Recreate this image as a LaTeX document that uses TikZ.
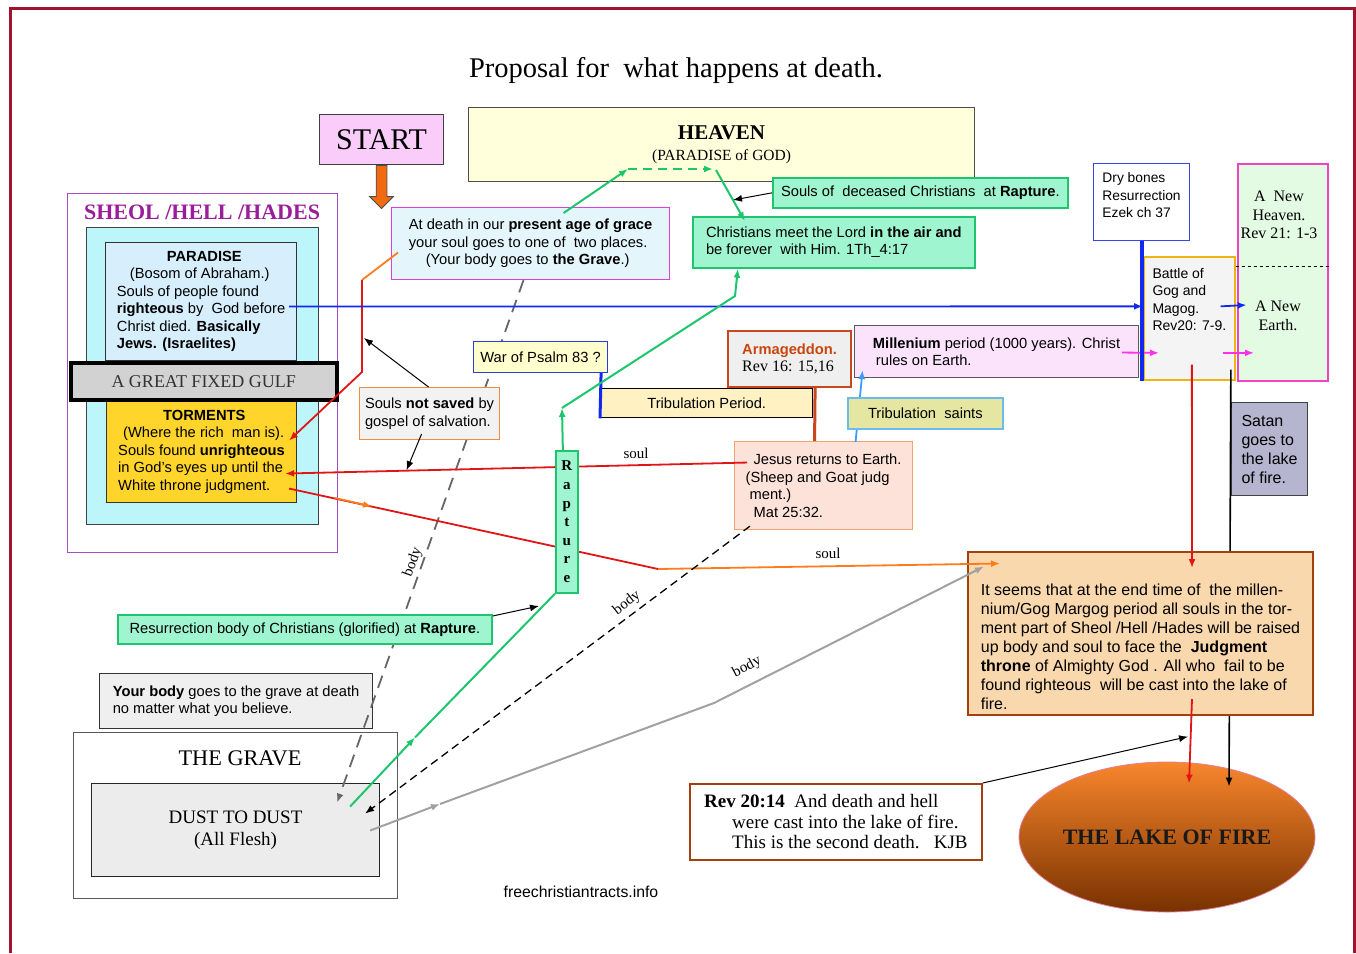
\documentclass[tikz,border=0pt]{standalone}
\usepackage{fontspec}
\setmainfont{Liberation Serif}
\setsansfont{Liberation Sans}
\usetikzlibrary{positioning,shapes.geometric,shapes.arrows,arrows.meta}
\definecolor{framered}{HTML}{A0122E}
\definecolor{startpink}{HTML}{FACCFA}
\definecolor{startorange}{HTML}{F26A10}
\definecolor{heavenyellow}{HTML}{FFFFDC}
\definecolor{deathblue}{HTML}{E4F6FC}
\definecolor{deathmagenta}{HTML}{DD3FDD}
\definecolor{mint}{HTML}{9FF5CF}
\definecolor{mintedge}{HTML}{20C46E}
\definecolor{sheolpurple}{HTML}{A24DC3}
\definecolor{sheoltext}{HTML}{9A1E99}
\definecolor{sheolcyan}{HTML}{BDF6FA}
\definecolor{paradiseblue}{HTML}{D7EFFC}
\definecolor{gulfgray}{HTML}{D2D2D2}
\definecolor{tormentgold}{HTML}{FFD52C}
\definecolor{notsavedgray}{HTML}{F2F2F2}
\definecolor{notsavedorange}{HTML}{F08C3E}
\definecolor{psalmyellow}{HTML}{FFFFCE}
\definecolor{psalmblue}{HTML}{2B3BDD}
\definecolor{tribyellow}{HTML}{FFF1C2}
\definecolor{armgray}{HTML}{EFEFEF}
\definecolor{armred}{HTML}{C9471C}
\definecolor{armtext}{HTML}{C8460E}
\definecolor{millpink}{HTML}{FCE3FC}
\definecolor{saintsgreen}{HTML}{E4E6A2}
\definecolor{saintsblue}{HTML}{6BBCEB}
\definecolor{jesussalmon}{HTML}{FDE2DA}
\definecolor{jesusorange}{HTML}{F4A26E}
\definecolor{bodygray}{HTML}{EFEFEF}
\definecolor{dustgray}{HTML}{ECECEC}
\definecolor{bonesblue}{HTML}{3A44E8}
\definecolor{battlegray}{HTML}{F4F4F4}
\definecolor{battlegold}{HTML}{EDB512}
\definecolor{newgreen}{HTML}{E2FBE2}
\definecolor{newpink}{HTML}{EE44C4}
\definecolor{satangray}{HTML}{B5B5CF}
\definecolor{judgpeach}{HTML}{FAD8AD}
\definecolor{judgbrown}{HTML}{A2410D}
\definecolor{laketop}{HTML}{F8862C}
\definecolor{lakebottom}{HTML}{783100}
\definecolor{lakepink}{HTML}{E27F9A}
\definecolor{soulred}{HTML}{E01515}
\definecolor{soulorange}{HTML}{FF7B1C}
\definecolor{raptgreen}{HTML}{1DC66D}
\definecolor{linkblue}{HTML}{1228F0}
\definecolor{linkmagenta}{HTML}{FF30EC}
\definecolor{skyblue}{HTML}{3A9BFA}
\newcommand{\boxfont}{\sffamily\fontsize{14.7}{17.5}\selectfont}
\begin{document}
\begin{tikzpicture}[x=1pt, y=-1pt,
  panel/.style={shape=rectangle, draw, anchor=north west, line width=1.1pt, inner sep=3pt, align=left, font=\boxfont},
  green panel/.style={panel, fill=mint, draw=mintedge, line width=1.7pt},
  word/.style={font=\rmfamily\fontsize{15}{18}\selectfont},
  pointer/.style={-{Latex[length=9pt,width=7pt]}},
  red line/.style={draw=soulred, line width=1.8pt},
  orange line/.style={draw=soulorange, line width=1.8pt},
  green line/.style={draw=raptgreen, line width=2pt},
  blue line/.style={draw=linkblue, line width=1.8pt},
  pink line/.style={draw=linkmagenta, line width=1.8pt},
  thin line/.style={draw=black, line width=1pt},
  body dash/.style={draw=black!60, line width=1.8pt, dash pattern=on 13pt off 8pt},
  body line/.style={draw=black!37, line width=2pt}]
\useasboundingbox (0,0) rectangle (1356,953);
\draw[framered, line width=3pt] (10,953) -- (10,8) -- (1354,8) -- (1354,953);

\node[font=\rmfamily\fontsize{28.5}{34}\selectfont] (title) at (676,70) {Proposal for\ \ what happens at death.};

% top row
\node[panel, fill=startpink, draw=black!75, minimum width=124, minimum height=50, inner sep=0, align=center, font=\rmfamily\fontsize{30}{36}\selectfont] (start) at (319,114) {START};
\node[single arrow, draw=black!70, line width=0.8pt, fill=startorange, shape border rotate=270, minimum height=43, minimum width=23, single arrow head extend=6.5pt, inner sep=5pt, below=0pt of start] (startarrow) {};
\node[panel, fill=heavenyellow, draw=black!70, minimum width=506, minimum height=74, align=center, font=\rmfamily\fontsize{15.5}{21}\selectfont] (heaven) at (468,107) {{\bfseries\fontsize{21}{24}\selectfont HEAVEN}\\(PARADISE of GOD)};
\node[panel, fill=deathblue, draw=deathmagenta, minimum width=278, minimum height=72] (atdeath) at (391,207) {At death in our \textbf{present age of grace}\\your soul goes to one of\ \ two places.\\\hspace*{17pt}(Your body goes to \textbf{the Grave}.)};
\node[green panel, minimum width=295, minimum height=30] (deceased) at (772,177) {Souls of\ \ deceased Christians\ \ at \textbf{Rapture}.};
\node[green panel, minimum width=282, minimum height=51] (meetlord) at (692,216) {Christians meet the Lord \textbf{in the air and}\\be forever\ \ with Him. 1Th\_4:17};

% sheol
\node[panel, fill=white, draw=sheolpurple, line width=1.4pt, minimum width=270, minimum height=359] (sheol) at (67,193) {};
\node[font=\rmfamily\bfseries\fontsize{22}{25}\selectfont, text=sheoltext] (sheoltitle) at (202,212) {SHEOL /HELL /HADES};
\node[panel, fill=sheolcyan, draw=black!75, minimum width=232, minimum height=297] (sheolinner) at (86,227) {};
\node[panel, fill=paradiseblue, draw=black!80, minimum width=191, minimum height=118] (paradise) at (105,242) {\hspace*{50pt}\textbf{PARADISE}\\\hspace*{13pt}(Bosom of Abraham.)\\Souls of people found\\\textbf{righteous} by\ \ God before\\Christ died. \textbf{Basically}\\\textbf{Jews. (Israelites)}};
\node[panel, fill=tormentgold, draw=black!80, minimum width=190, minimum height=102] (torments) at (106,400) {\hspace*{45pt}\textbf{TORMENTS}\\\hspace*{5pt}(Where the rich\ \ man is).\\Souls found \textbf{unrighteous}\\in God’s eyes up until the\\White throne judgment.};
\node[panel, fill=gulfgray, draw=black, line width=3.5pt, minimum width=266, minimum height=37, align=center, text=black!80, font=\rmfamily\fontsize{18}{20}\selectfont] (gulf) at (69,361) {A GREAT FIXED GULF};

% middle
\node[panel, fill=armgray, draw=armred, line width=2.2pt, minimum width=123, minimum height=56] (armageddon) at (727,330) {{\color{armtext}\bfseries Armageddon.}\\{\rmfamily\fontsize{16}{17.5}\selectfont Rev 16: 15,16}};
\node[panel, fill=millpink, draw=black!65, minimum width=284, minimum height=52] (millenium) at (854,325) {\textbf{Millenium} period (1000 years). Christ\\\hspace*{3pt}rules on Earth.};
\node[panel, fill=tribyellow, draw=black, line width=1.4pt, minimum width=212, minimum height=29, align=center] (tribperiod) at (600,388) {Tribulation Period.};
\node[panel, fill=jesussalmon, draw=jesusorange, minimum width=178, minimum height=88] (jesus) at (734,441) {\hspace*{8pt}Jesus returns to Earth.\\(Sheep and Goat judg\\\hspace*{4pt}ment.)\\\hspace*{8pt}Mat 25:32.};

% bottom left
\node[panel, fill=bodygray, draw=black!80, minimum width=273, minimum height=55] (yourbody) at (99,673) {\textbf{Your body} goes to the grave at death\\no matter what you believe.};
\node[panel, fill=white, draw=black!65, minimum width=324, minimum height=166] (grave) at (73,732) {};
\node[font=\rmfamily\fontsize{22.3}{25}\selectfont] (gravetitle) at (240,758) {THE GRAVE};
\node[panel, fill=dustgray, draw=black!85, minimum width=288, minimum height=93, align=center, font=\rmfamily\fontsize{19}{21.5}\selectfont] (dust) at (91,783) {DUST TO DUST\\(All Flesh)};

% right
\node[panel, fill=white, draw=bonesblue, minimum width=96, minimum height=77, font=\sffamily\fontsize{13.8}{17.5}\selectfont] (drybones) at (1093,163) {Dry bones\\Resurrection\\Ezek ch 37\rule[-14pt]{0pt}{14pt}};
\node[panel, fill=battlegray, draw=battlegold, line width=1.7pt, minimum width=91, minimum height=123, font=\sffamily\fontsize{14}{17.5}\selectfont] (battle) at (1143,256) {Battle of\\Gog and\\Magog.\\Rev20: 7-9.\rule[-38pt]{0pt}{38pt}};
\node[panel, fill=newgreen, draw=newpink, line width=1.7pt, minimum width=90, minimum height=217] (newheaven) at (1237,163) {};
\node[align=center, font=\rmfamily\fontsize{16}{18.5}\selectfont] (heavenlbl) at (1279,215) {A\ \ New\\Heaven.\\Rev 21: 1-3};
\node[align=center, font=\rmfamily\fontsize{16}{18.5}\selectfont] (earthlbl) at (1278,316) {A New\\Earth.};
\draw[dashed, line width=0.8pt] (battle.east |- 0,266) -- (newheaven.east |- 0,266);
\node[panel, fill=satangray, draw=black!75, minimum width=76, minimum height=93, font=\sffamily\fontsize{16}{19}\selectfont] (satan) at (1231,402) {Satan\\goes to\\the lake\\of fire.};
\node[ellipse, draw=lakepink, line width=0.8pt, top color=laketop, bottom color=lakebottom, inner sep=0pt, minimum width=296, minimum height=150, text=black!90, font=\rmfamily\bfseries\fontsize{22}{25}\selectfont] (lake) at (1167,837) {THE LAKE OF FIRE};
\node[panel, fill=white, draw=judgbrown, line width=1.8pt, minimum width=292, minimum height=76, font=\rmfamily\fontsize{19}{20.5}\selectfont] (rev) at (689,783) {\textbf{Rev 20:14}\ \ And death and hell\\\hspace*{28pt}were cast into the lake of fire.\\\hspace*{28pt}This is the second death.\ \ \ KJB};
\node[font=\sffamily\fontsize{15.8}{18}\selectfont] (website) at (581,892) {freechristiantracts.info};

% bends and free ends
\coordinate (hellbendA) at (362,280);
\coordinate (hellbendB) at (362,372);
\coordinate (soulbend) at (658,569);
\coordinate (soulmidA) at (335,498);
\coordinate (soulmidB) at (372,506.5);
\coordinate (heavenA) at (628,169);
\coordinate (heavenB) at (713,169);
\coordinate (raptbend) at (562,408);
\coordinate (raptbend2) at (735,296);
\coordinate (greenmid) at (415,737.5);
\coordinate (graymid) at (440,804);
\coordinate (graybend) at (714,703);
\coordinate (deceasedmark) at (733,200);
\coordinate (rapturemark) at (539,606);

% connectors under the boxes
\draw[body dash, pointer] ([xshift=-7pt]atdeath.south) -- ([xshift=-43pt,yshift=27.5pt]dust.east);
\draw[red line, pointer] ([xshift=13pt,yshift=23pt]jesus.west) -- ([xshift=-12pt,yshift=-22pt]torments.east);
\draw[red line] ([xshift=-8pt,yshift=-37pt]torments.east) -- (soulbend);
\draw[orange line, pointer] (soulmidA) -- (soulmidB);
\draw[draw=skyblue, line width=1.8pt, pointer] ([xshift=32pt,yshift=-1pt]jesus.north) -- ([xshift=-134pt,yshift=8pt]millenium.south);
\draw[thin line, line width=1.6pt, pointer] ([xshift=41.5pt,yshift=11pt]battle.south) -- ([xshift=62pt,yshift=-25pt]lake.north);

% boxes on top of the lines
\node[panel, fill=notsavedgray, draw=notsavedorange, minimum width=140, minimum height=52] (notsaved) at (359,387) {Souls \textbf{not saved} by\\gospel of salvation.};
\node[panel, fill=psalmyellow, draw=psalmblue, minimum width=134, minimum height=31] (psalm) at (473,341) {War of Psalm 83 ?};
\node[panel, fill=saintsgreen, draw=saintsblue, line width=1.7pt, minimum width=155, minimum height=31] (tribsaints) at (847,397) {Tribulation\ \ saints};
\node[green panel, minimum width=22, minimum height=142, inner sep=0pt, align=center, font=\rmfamily\bfseries\fontsize{15}{18.6}\selectfont] (rapture) at (555,450) {R\\a\\p\\t\\u\\r\\e};
\node[green panel, minimum width=374, minimum height=29] (resbody) at (117,614) {Resurrection body of Christians (glorified) at \textbf{Rapture}.};
\node[panel, fill=judgpeach, draw=judgbrown, line width=2pt, minimum width=345, minimum height=163, font=\sffamily\fontsize{16}{19}\selectfont] (judgment) at (967,551) {\rule{0pt}{38pt}It seems that at the end time of\ \ the millen-\\nium/Gog Margog period all souls in the tor-\\ment part of Sheol /Hell /Hades will be raised\\up body and soul to face the\ \ \textbf{Judgment}\\\textbf{throne} of Almighty God\ . All who\ \ fail to be\\found righteous\ \ will be cast into the lake of\\fire.};

% connectors
\draw[orange line] ([xshift=7pt,yshift=-9pt]atdeath.west) -- (hellbendA);
\draw[red line, pointer] (hellbendA) -- (hellbendB) -- ([xshift=-8pt,yshift=11pt]torments.east);
\draw[thin line, pointer] ([xshift=-1pt]notsaved.north) -- ([xshift=2pt,yshift=-58pt]hellbendA);
\draw[thin line, pointer] ([xshift=-8pt,yshift=6pt]notsaved.south) -- ([xshift=-23pt,yshift=-30pt]notsaved.south);
\draw[blue line, pointer] ([xshift=-8pt,yshift=-5pt]paradise.east) -- ([yshift=12pt]battle.west);
\draw[blue line, pointer] ([xshift=-15pt,yshift=12pt]battle.east) -- ([xshift=-5pt,yshift=11pt]earthlbl.west);
\draw[pink line, pointer] ([xshift=-17pt,yshift=-1pt]millenium.east) -- ([xshift=16pt,yshift=-34.5pt]battle.west);
\draw[pink line, pointer] ([xshift=-13pt,yshift=-34.5pt]battle.east) -- ([xshift=17pt,yshift=-80.5pt]newheaven.west);
\draw[draw=linkblue, line width=4pt] (drybones.south) -- (drybones.south |- battle.south);
\draw[draw=armred, line width=3pt] ([xshift=25.5pt]armageddon.south) -- ([xshift=-9pt]jesus.north);
\draw[draw=linkblue, line width=3pt] ([xshift=-7pt]psalm.south east) -- (tribperiod.south west);
\draw[red line, pointer] ([xshift=2.5pt,yshift=16pt]battle.south) -- ([xshift=51.5pt,yshift=-17pt]judgment.north);
\draw[red line, pointer] ([xshift=51.5pt,yshift=17pt]judgment.south) -- ([xshift=22pt,yshift=-22pt]lake.north);
\draw[thin line, pointer] (rev.north east) -- ([xshift=21pt,yshift=25pt]lake.north);
\draw[orange line, pointer] (soulbend) -- ([xshift=33pt,yshift=70pt]judgment.west);
\draw[green line, pointer] ([xshift=33pt,yshift=-6pt]atdeath.north) -- (heavenA);
\draw[green line, dash pattern=on 9pt off 6pt, pointer] (heavenA) -- (heavenB);
\draw[green line, pointer] ([xshift=3pt,yshift=-1pt]heavenB) -- ([xshift=-89pt,yshift=-5pt]meetlord.north);
\draw[thin line, pointer] (deceased.west) -- (deceasedmark);
\draw[green line, pointer] ([xshift=-30pt,yshift=23.5pt]dust.east) -- (greenmid);
\draw[green line] (greenmid) -- (rapture.south west);
\draw[green line, pointer] ([xshift=-4pt]rapture.north) -- (raptbend);
\draw[green line, pointer] (raptbend) -- (raptbend2) -- ([xshift=-96pt]meetlord.south);
\draw[thin line, pointer] ([yshift=-2pt]resbody.north east) -- (rapturemark);
\draw[black, line width=1.3pt, dash pattern=on 8pt off 5pt, pointer] ([xshift=16pt,yshift=4pt]jesus.south west) -- ([xshift=-15pt,yshift=16.5pt]dust.east);
\draw[body line, pointer] ([xshift=-10pt,yshift=-0.5pt]dust.east) -- (graymid);
\draw[body line, pointer] (graymid) -- (graybend) -- ([xshift=17pt,yshift=67pt]judgment.west);

% line labels
\node[word] (soulA) at (636,453) {soul};
\node[word] (soulB) at (828,553) {soul};
\node[word, rotate=70] (bodyA) at (413,562) {body};
\node[word, rotate=38] (bodyB) at (627,603) {body};
\node[word, rotate=28] (bodyC) at (747,667) {body};
\end{tikzpicture}
\end{document}
